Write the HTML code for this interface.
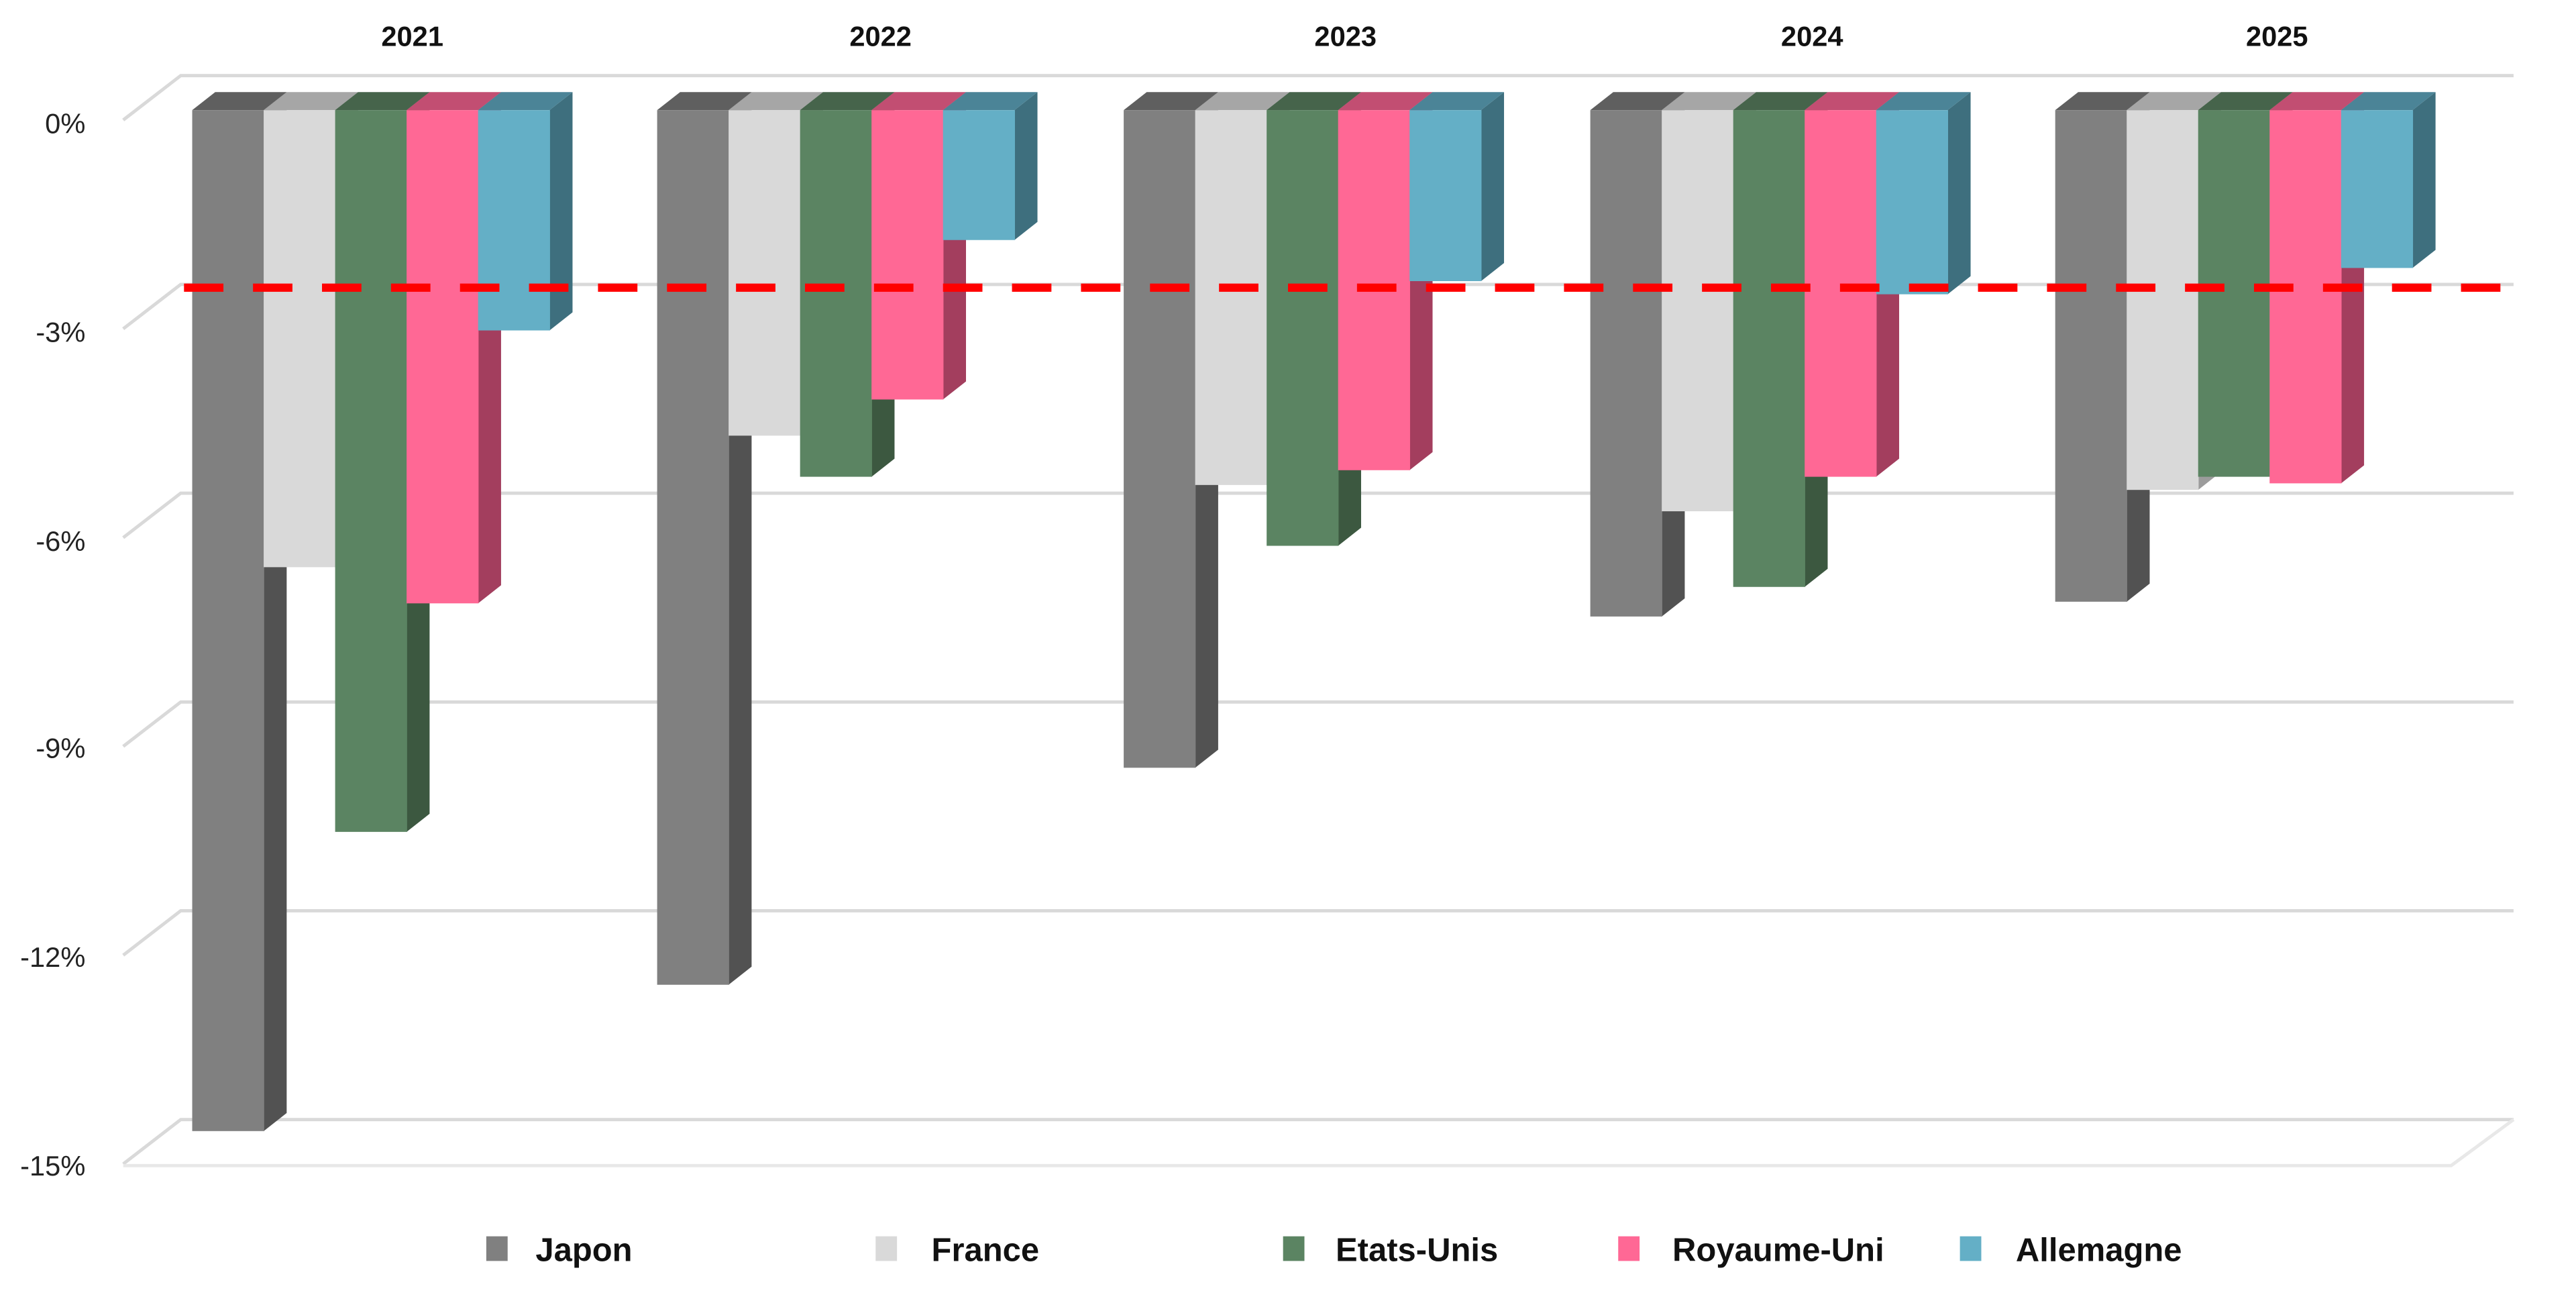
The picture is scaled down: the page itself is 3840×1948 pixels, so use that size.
<!DOCTYPE html>
<html><head><meta charset="utf-8"><style>
html,body{margin:0;padding:0;background:#fff;}
svg{display:block;}
text{font-family:"Liberation Sans",sans-serif;}
.j .s{fill:#525252}.j .t{fill:#5f5f5f}.j .f{fill:#808080}
.fr .s{fill:#9c9c9c}.fr .t{fill:#a6a6a6}.fr .f{fill:#d9d9d9}
.e .s{fill:#3c5840}.e .t{fill:#46644b}.e .f{fill:#5b8462}
.r .s{fill:#a33e5e}.r .t{fill:#c24e72}.r .f{fill:#ff6895}
.a .s{fill:#3e6f7e}.a .t{fill:#4b8497}.a .f{fill:#64afc6}
</style></head><body>
<svg width="3840" height="1948" viewBox="0 0 1568 795" preserveAspectRatio="none" xmlns="http://www.w3.org/2000/svg">
<g stroke="#d9d9d9" stroke-width="2" fill="none">
<polyline points="75,73 110,46 1530,46"/>
<polyline points="75,200 110,173 1530,173"/>
<polyline points="75,327 110,300 1530,300"/>
<polyline points="75,454 110,427 1530,427"/>
<polyline points="75,581 110,554 1530,554"/>
<polyline points="75,708 110,681 1530,681"/>
<polyline points="75,709 1492,709 1530,681" stroke="#e8e8e8"/>
</g>
<g font-size="17" fill="#222" text-anchor="end">
<text x="52" y="81">0%</text>
<text x="52" y="208">-3%</text>
<text x="52" y="335">-6%</text>
<text x="52" y="461">-9%</text>
<text x="52" y="588">-12%</text>
<text x="52" y="715">-15%</text>
</g>
<g font-size="17" font-weight="bold" fill="#111" text-anchor="middle">
<text x="251" y="28">2021</text>
<text x="536" y="28">2022</text>
<text x="819" y="28">2023</text>
<text x="1103" y="28">2024</text>
<text x="1386" y="28">2025</text>
</g>

<g class="j" transform="translate(117,0)"><polygon class="s" points="43.5,67 57.5,56 57.5,677 43.5,688"/><polygon class="t" points="0,67 14,56 57.5,56 43.5,67"/><rect class="f" x="0" y="67" width="43.8" height="621"/></g>
<g class="fr" transform="translate(160.5,0)"><polygon class="s" points="43.5,67 57.5,56 57.5,334 43.5,345"/><polygon class="t" points="0,67 14,56 57.5,56 43.5,67"/><rect class="f" x="0" y="67" width="43.8" height="278"/></g>
<g class="e" transform="translate(204,0)"><polygon class="s" points="43.5,67 57.5,56 57.5,495 43.5,506"/><polygon class="t" points="0,67 14,56 57.5,56 43.5,67"/><rect class="f" x="0" y="67" width="43.8" height="439"/></g>
<g class="r" transform="translate(247.5,0)"><polygon class="s" points="43.5,67 57.5,56 57.5,356 43.5,367"/><polygon class="t" points="0,67 14,56 57.5,56 43.5,67"/><rect class="f" x="0" y="67" width="43.8" height="300"/></g>
<g class="a" transform="translate(291,0)"><polygon class="s" points="43.5,67 57.5,56 57.5,190 43.5,201"/><polygon class="t" points="0,67 14,56 57.5,56 43.5,67"/><rect class="f" x="0" y="67" width="43.8" height="134"/></g>

<g class="j" transform="translate(400,0)"><polygon class="s" points="43.5,67 57.5,56 57.5,588 43.5,599"/><polygon class="t" points="0,67 14,56 57.5,56 43.5,67"/><rect class="f" x="0" y="67" width="43.8" height="532"/></g>
<g class="fr" transform="translate(443.5,0)"><polygon class="s" points="43.5,67 57.5,56 57.5,254 43.5,265"/><polygon class="t" points="0,67 14,56 57.5,56 43.5,67"/><rect class="f" x="0" y="67" width="43.8" height="198"/></g>
<g class="e" transform="translate(487,0)"><polygon class="s" points="43.5,67 57.5,56 57.5,279 43.5,290"/><polygon class="t" points="0,67 14,56 57.5,56 43.5,67"/><rect class="f" x="0" y="67" width="43.8" height="223"/></g>
<g class="r" transform="translate(530.5,0)"><polygon class="s" points="43.5,67 57.5,56 57.5,232 43.5,243"/><polygon class="t" points="0,67 14,56 57.5,56 43.5,67"/><rect class="f" x="0" y="67" width="43.8" height="176"/></g>
<g class="a" transform="translate(574,0)"><polygon class="s" points="43.5,67 57.5,56 57.5,135 43.5,146"/><polygon class="t" points="0,67 14,56 57.5,56 43.5,67"/><rect class="f" x="0" y="67" width="43.8" height="79"/></g>

<g class="j" transform="translate(684,0)"><polygon class="s" points="43.5,67 57.5,56 57.5,456 43.5,467"/><polygon class="t" points="0,67 14,56 57.5,56 43.5,67"/><rect class="f" x="0" y="67" width="43.8" height="400"/></g>
<g class="fr" transform="translate(727.5,0)"><polygon class="s" points="43.5,67 57.5,56 57.5,284 43.5,295"/><polygon class="t" points="0,67 14,56 57.5,56 43.5,67"/><rect class="f" x="0" y="67" width="43.8" height="228"/></g>
<g class="e" transform="translate(771,0)"><polygon class="s" points="43.5,67 57.5,56 57.5,321 43.5,332"/><polygon class="t" points="0,67 14,56 57.5,56 43.5,67"/><rect class="f" x="0" y="67" width="43.8" height="265"/></g>
<g class="r" transform="translate(814.5,0)"><polygon class="s" points="43.5,67 57.5,56 57.5,275 43.5,286"/><polygon class="t" points="0,67 14,56 57.5,56 43.5,67"/><rect class="f" x="0" y="67" width="43.8" height="219"/></g>
<g class="a" transform="translate(858,0)"><polygon class="s" points="43.5,67 57.5,56 57.5,160 43.5,171"/><polygon class="t" points="0,67 14,56 57.5,56 43.5,67"/><rect class="f" x="0" y="67" width="43.8" height="104"/></g>

<g class="j" transform="translate(968,0)"><polygon class="s" points="43.5,67 57.5,56 57.5,364 43.5,375"/><polygon class="t" points="0,67 14,56 57.5,56 43.5,67"/><rect class="f" x="0" y="67" width="43.8" height="308"/></g>
<g class="fr" transform="translate(1011.5,0)"><polygon class="s" points="43.5,67 57.5,56 57.5,300 43.5,311"/><polygon class="t" points="0,67 14,56 57.5,56 43.5,67"/><rect class="f" x="0" y="67" width="43.8" height="244"/></g>
<g class="e" transform="translate(1055,0)"><polygon class="s" points="43.5,67 57.5,56 57.5,346 43.5,357"/><polygon class="t" points="0,67 14,56 57.5,56 43.5,67"/><rect class="f" x="0" y="67" width="43.8" height="290"/></g>
<g class="r" transform="translate(1098.5,0)"><polygon class="s" points="43.5,67 57.5,56 57.5,279 43.5,290"/><polygon class="t" points="0,67 14,56 57.5,56 43.5,67"/><rect class="f" x="0" y="67" width="43.8" height="223"/></g>
<g class="a" transform="translate(1142,0)"><polygon class="s" points="43.5,67 57.5,56 57.5,168 43.5,179"/><polygon class="t" points="0,67 14,56 57.5,56 43.5,67"/><rect class="f" x="0" y="67" width="43.8" height="112"/></g>

<g class="j" transform="translate(1251,0)"><polygon class="s" points="43.5,67 57.5,56 57.5,355 43.5,366"/><polygon class="t" points="0,67 14,56 57.5,56 43.5,67"/><rect class="f" x="0" y="67" width="43.8" height="299"/></g>
<g class="fr" transform="translate(1294.5,0)"><polygon class="s" points="43.5,67 57.5,56 57.5,287 43.5,298"/><polygon class="t" points="0,67 14,56 57.5,56 43.5,67"/><rect class="f" x="0" y="67" width="43.8" height="231"/></g>
<g class="e" transform="translate(1338,0)"><polygon class="s" points="43.5,67 57.5,56 57.5,279 43.5,290"/><polygon class="t" points="0,67 14,56 57.5,56 43.5,67"/><rect class="f" x="0" y="67" width="43.8" height="223"/></g>
<g class="r" transform="translate(1381.5,0)"><polygon class="s" points="43.5,67 57.5,56 57.5,283 43.5,294"/><polygon class="t" points="0,67 14,56 57.5,56 43.5,67"/><rect class="f" x="0" y="67" width="43.8" height="227"/></g>
<g class="a" transform="translate(1425,0)"><polygon class="s" points="43.5,67 57.5,56 57.5,152 43.5,163"/><polygon class="t" points="0,67 14,56 57.5,56 43.5,67"/><rect class="f" x="0" y="67" width="43.8" height="96"/></g>

<line x1="112" y1="175" x2="1530" y2="175" stroke="#ff0000" stroke-width="5" stroke-dasharray="24,18"/>
<g font-size="20" font-weight="bold" fill="#111">
<rect x="296" y="752" width="13" height="15" fill="#808080"/><text x="326" y="767">Japon</text>
<rect x="533" y="752" width="13" height="15" fill="#d9d9d9"/><text x="567" y="767">France</text>
<rect x="781" y="752" width="13" height="15" fill="#5b8462"/><text x="813" y="767">Etats-Unis</text>
<rect x="985" y="752" width="13" height="15" fill="#ff6895"/><text x="1018" y="767">Royaume-Uni</text>
<rect x="1193" y="752" width="13" height="15" fill="#64afc6"/><text x="1227" y="767">Allemagne</text>
</g>
</svg>
</body></html>
